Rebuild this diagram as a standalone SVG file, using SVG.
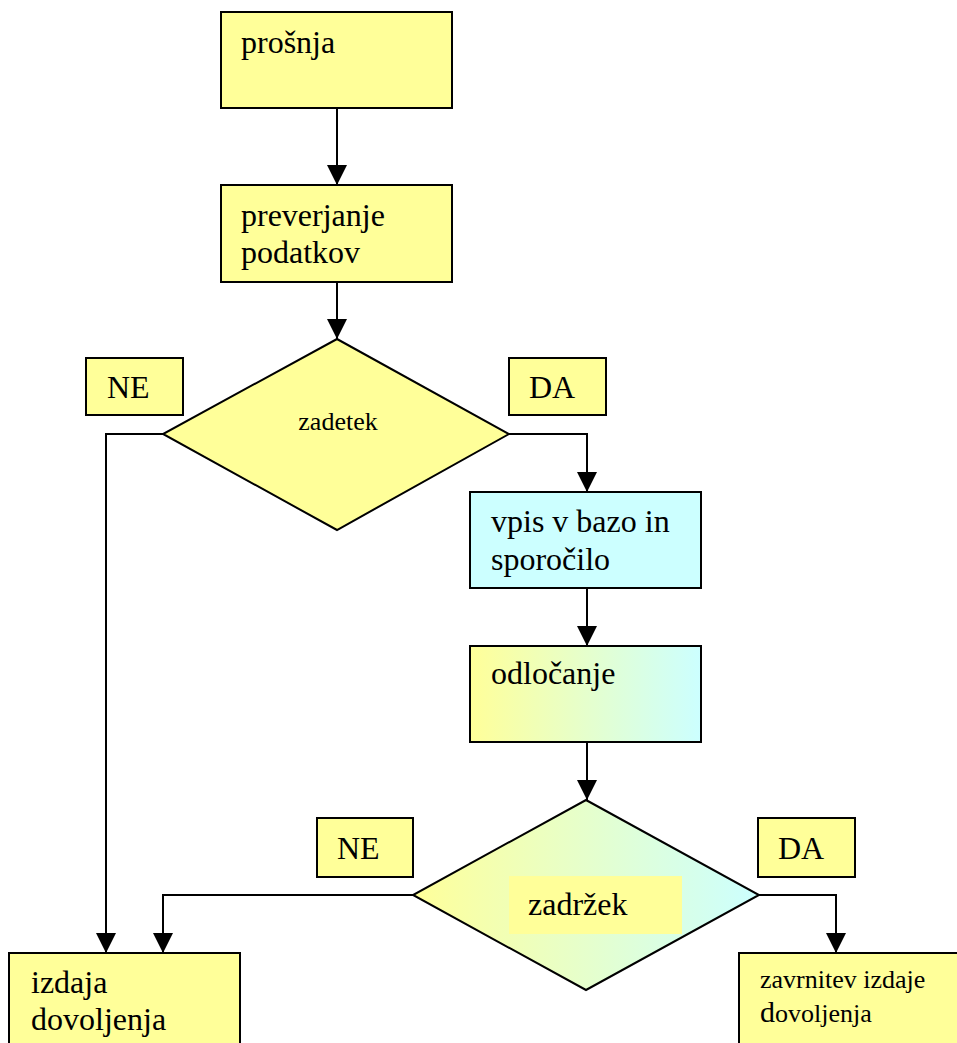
<svg xmlns="http://www.w3.org/2000/svg" width="957" height="1043" viewBox="0 0 957 1043">
  <style>
    .box { stroke: #000; stroke-width: 2; }
    .yellow { fill: #FFFF99; }
    .cyan { fill: #CCFFFF; }
    .mix { fill: url(#yc); }
    .wire { fill: none; stroke: #000; stroke-width: 2; marker-end: url(#arrow); }
  </style>
  <defs>
    <linearGradient id="yc" x1="0" y1="0" x2="1" y2="0">
      <stop offset="0" stop-color="#FFFF99"/>
      <stop offset="1" stop-color="#CCFFFF"/>
    </linearGradient>
    <marker id="arrow" markerUnits="userSpaceOnUse" markerWidth="20" markerHeight="20" refX="20" refY="10" orient="auto">
      <path d="M0,0 L20,10 L0,20 Z" fill="#000"/>
    </marker>
  </defs>
  <rect width="957" height="1043" fill="#fff"/>

  <g id="connectors">
    <path class="wire" d="M337,108 V185"/>
    <path class="wire" d="M337,282 V339"/>
    <path class="wire" d="M163,434 H106 V953"/>
    <path class="wire" d="M509,434 H587 V492"/>
    <path class="wire" d="M587,588 V646"/>
    <path class="wire" d="M587,742 V800"/>
    <path class="wire" d="M413,895 H163 V953"/>
    <path class="wire" d="M759,895 H836 V953"/>
  </g>

  <g id="prosnja">
    <rect class="box yellow" x="221" y="12" width="231" height="96"/>
    <text font-family="Liberation Serif" font-size="32" x="241" y="53">prošnja</text>
  </g>

  <g id="preverjanje">
    <rect class="box yellow" x="221" y="185" width="231" height="97"/>
    <text font-family="Liberation Serif" font-size="32" x="241" y="226">preverjanje</text>
    <text font-family="Liberation Serif" font-size="32" x="241" y="263">podatkov</text>
  </g>

  <g id="zadetek">
    <polygon class="box yellow" points="337,339 509,434 337,530 163,434"/>
    <text font-family="Liberation Serif" font-size="26" x="338" y="430" text-anchor="middle">zadetek</text>
  </g>

  <g id="ne1">
    <rect class="box yellow" x="86" y="358" width="97" height="57"/>
    <text font-family="Liberation Serif" font-size="32" x="107" y="398">NE</text>
  </g>

  <g id="da1">
    <rect class="box yellow" x="509" y="358" width="97" height="57"/>
    <text font-family="Liberation Serif" font-size="32" x="529" y="398">DA</text>
  </g>

  <g id="vpis">
    <rect class="box cyan" x="470" y="492" width="231" height="96"/>
    <text font-family="Liberation Serif" font-size="32" x="491" y="532">vpis v bazo in</text>
    <text font-family="Liberation Serif" font-size="32" x="491" y="570">sporočilo</text>
  </g>

  <g id="odlocanje">
    <rect class="box mix" x="470" y="646" width="231" height="96"/>
    <text font-family="Liberation Serif" font-size="32" x="491" y="684">odločanje</text>
  </g>

  <g id="zadrzek">
    <polygon class="box mix" points="586,800 759,895 586,990 413,895"/>
    <rect class="yellow" x="509" y="876" width="173" height="58"/>
    <text font-family="Liberation Serif" font-size="32" x="528" y="915">zadržek</text>
  </g>

  <g id="ne2">
    <rect class="box yellow" x="317" y="818" width="96" height="59"/>
    <text font-family="Liberation Serif" font-size="32" x="337" y="859">NE</text>
  </g>

  <g id="da2">
    <rect class="box yellow" x="758" y="818" width="97" height="59"/>
    <text font-family="Liberation Serif" font-size="32" x="778" y="859">DA</text>
  </g>

  <g id="izdaja">
    <rect class="box yellow" x="9" y="953" width="231" height="100"/>
    <text font-family="Liberation Serif" font-size="32" x="31" y="993">izdaja</text>
    <text font-family="Liberation Serif" font-size="32" x="31" y="1030">dovoljenja</text>
  </g>

  <g id="zavrnitev">
    <rect class="box yellow" x="739" y="953" width="230" height="100"/>
    <text font-family="Liberation Serif" font-size="26" x="760" y="988">zavrnitev izdaje</text>
    <text font-family="Liberation Serif" font-size="26" x="760" y="1022"><tspan font-size="30">d</tspan>ovoljenja</text>
  </g>
</svg>
